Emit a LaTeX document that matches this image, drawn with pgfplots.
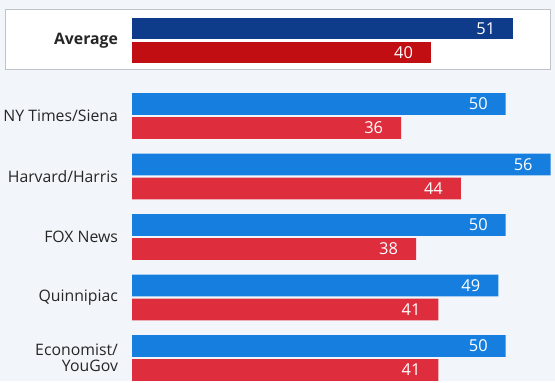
\documentclass[border=0pt]{standalone}
\usepackage{pgfplots}
\pgfplotsset{compat=1.18}
\usepackage{fontspec}
\setmainfont{Open Sans}
\definecolor{bgcol}{RGB}{242,246,250}
\definecolor{boxline}{RGB}{190,195,200}
\definecolor{avgblue}{RGB}{14,60,138}
\definecolor{avgred}{RGB}{192,14,18}
\definecolor{pblue}{RGB}{22,126,222}
\definecolor{pred}{RGB}{222,46,62}
\begin{document}
\begin{tikzpicture}
\begin{axis}[
  scale only axis,
  width=277.5pt, height=190.5pt,
  xmin=-17.66, xmax=56.59,
  ymin=-381, ymax=0,
  axis lines=none,
  xtick=\empty, ytick=\empty,
  xbar, bar shift=0pt, bar width=10.8pt,
  clip=true,
  /pgf/number format/assume math mode=true,
  nodes near coords,
  every node near coord/.append style={anchor=east, xshift=-5.5pt, text=white, font=\fontsize{8.2}{9}\selectfont},
]
\fill[bgcol] (rel axis cs:0,0) rectangle (rel axis cs:1,1);
\filldraw[fill=white, draw=boxline, line width=0.5pt] (axis cs:-16.86,-10) rectangle (axis cs:56.05,-70);
\addplot[fill=avgblue, draw=none] coordinates {(51,-28.5)};
\addplot[fill=avgred, draw=none] coordinates {(40,-52.5)};
\addplot[fill=pblue, draw=none] coordinates {(50,-104) (56,-164.5) (50,-225) (49,-285.5) (50,-346)};
\addplot[fill=pred, draw=none] coordinates {(36,-128) (44,-188.5) (38,-249) (41,-309.5) (41,-370)};
\begin{scope}[every node/.style={anchor=east, xshift=-3.5pt, font=\fontsize{7.9}{8.2}\selectfont, text=black!85, align=right}]
\node at (axis cs:0,-40.5) {\bfseries Average};
\node at (axis cs:0,-116) {NY Times/Siena};
\node at (axis cs:0,-176.5) {Harvard/Harris};
\node at (axis cs:0,-237) {FOX News};
\node at (axis cs:0,-297.5) {Quinnipiac};
\node at (axis cs:0,-358) {Economist/\\YouGov};
\end{scope}
\end{axis}
\end{tikzpicture}
\end{document}
